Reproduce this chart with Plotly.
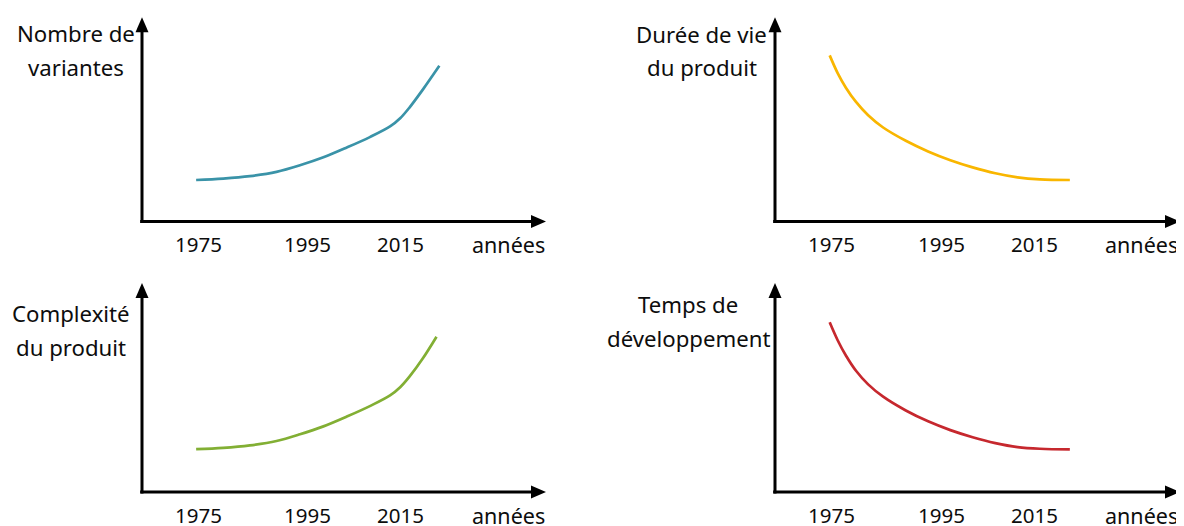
import plotly.graph_objects as go

# page body adds an 8px margin, so the figure is drawn 8px smaller and shifted
OFF = 8
W, H = 1184 - OFF, 526 - OFF

# ---- data (x in axis units: 0 = origin, 100 = arrow tip; y likewise) ----
YEAR_LABELS = ["1975", "1995", "2015"]
YEAR_POS = [14.0, 41.0, 64.1]
X_TITLE = "années"
X_TITLE_POS = 90.6

variantes_x = [13.4, 20.1, 26.7, 33.3, 39.1, 44.9, 50.7, 56.4, 61.4, 63.9, 66.3, 69.6, 73.6]
variantes_y = [20.3, 21.0, 22.2, 24.3, 27.5, 31.4, 36.2, 41.3, 46.5, 50.5, 56.0, 64.8, 76.2]

duree_x = [13.5, 15.5, 17.5, 20.0, 23.0, 26.7, 32.3, 37.8, 43.3, 48.8, 54.4, 59.9, 65.4, 72.8]
duree_y = [81.3, 72.5, 65.5, 58.5, 52.0, 46.0, 39.5, 34.3, 30.0, 26.5, 23.6, 21.6, 20.6, 20.3]

complexite_x = [13.4, 20.1, 26.7, 33.3, 39.1, 44.9, 50.7, 56.4, 61.4, 63.9, 66.3, 69.4, 72.9]
complexite_y = [20.5, 21.1, 22.3, 24.4, 27.6, 31.4, 36.1, 41.1, 46.2, 50.1, 55.4, 63.6, 74.3]

temps_x = [13.5, 15.5, 17.5, 20.0, 23.0, 26.7, 32.3, 37.8, 43.3, 48.8, 54.4, 59.9, 65.4, 72.8]
temps_y = [81.2, 72.5, 65.3, 58.0, 51.5, 45.6, 39.0, 33.8, 29.6, 26.2, 23.4, 21.5, 20.7, 20.4]

TITLES = [["Nombre de", "variantes"], ["Durée de vie", "du produit"],
          ["Complexité", "du produit"], ["Temps de", "développement"]]
COLORS = ["#3A93A8", "#F9B600", "#82AF34", "#C6282E"]
SERIES = [(variantes_x, variantes_y), (duree_x, duree_y),
          (complexite_x, complexite_y), (temps_x, temps_y)]

# ---- layout geometry (page pixels) ----
# origin, arrow tips, title centre x, title line centres y
PANELS = [
    dict(ox=142, oy=221, tx=546, ty=11, lc=75.5, l1=33, l2=67),
    dict(ox=775, oy=221, tx=1180, ty=11, lc=701.7, l1=34, l2=68),
    dict(ox=142, oy=492, tx=546, ty=283, lc=70.7, l1=313, l2=347),
    dict(ox=775, oy=492, tx=1180, ty=283, lc=688.0, l1=304, l2=338),
]
XR = (-5, 100.8)
YR = (-8, 104.5)
FONT = "Noto Sans"
TXT = "#0d0d0d"


def clamp(v):
    return min(1.0, max(0.0, v))


def px(x):
    return (x - OFF) / W


def py(y):
    return 1 - (y - OFF) / H


fig = go.Figure()
layout = dict(width=W, height=H, margin=dict(l=0, r=0, t=0, b=0),
              paper_bgcolor="white", plot_bgcolor="white", showlegend=False)
shapes, annots = [], []

for i, p in enumerate(PANELS):
    n = "" if i == 0 else str(i + 1)
    xs = (p["tx"] - p["ox"]) / 100.0
    ys = (p["oy"] - p["ty"]) / 100.0
    x0 = p["ox"] + XR[0] * xs
    x1 = p["ox"] + XR[1] * xs
    y0 = p["oy"] - YR[0] * ys
    y1 = p["oy"] - YR[1] * ys
    layout["xaxis" + n] = dict(domain=[clamp(px(x0)), clamp(px(x1))], range=list(XR),
                               visible=False, anchor="y" + n, fixedrange=True)
    layout["yaxis" + n] = dict(domain=[clamp(py(y0)), clamp(py(y1))], range=list(YR),
                               visible=False, anchor="x" + n, fixedrange=True)
    xr, yr = "x" + n, "y" + n
    sx, sy = SERIES[i]
    fig.add_trace(go.Scatter(x=sx, y=sy, mode="lines", xaxis=xr, yaxis=yr,
                             line=dict(color=COLORS[i], width=2.7, shape="spline", smoothing=1.0),
                             hoverinfo="skip"))
    # axes lines
    shapes.append(dict(type="line", xref=xr, yref=yr, x0=-0.45, y0=0, x1=97, y1=0,
                       line=dict(color="black", width=3)))
    shapes.append(dict(type="line", xref=xr, yref=yr, x0=0, y0=-0.7, x1=0, y1=95,
                       line=dict(color="black", width=3)))
    # arrow heads (pixel-sized, anchored at the tips)
    shapes.append(dict(type="path", xref=xr, yref=yr, xsizemode="pixel", ysizemode="pixel",
                       xanchor=100, yanchor=0, path="M0,0 L-15,6.5 L-15,-6.5 Z",
                       fillcolor="black", line=dict(width=0)))
    shapes.append(dict(type="path", xref=xr, yref=yr, xsizemode="pixel", ysizemode="pixel",
                       xanchor=0, yanchor=100, path="M0,0 L-6.5,-15 L6.5,-15 Z",
                       fillcolor="black", line=dict(width=0)))
    # year labels and axis title
    ly = py(p["oy"] + 23.2)
    for lab, pos in zip(YEAR_LABELS, YEAR_POS):
        annots.append(dict(text=lab, x=pos, xref=xr, y=ly, yref="paper", showarrow=False,
                           xanchor="center", yanchor="middle", borderpad=0,
                           font=dict(family=FONT, size=20.5, color=TXT)))
    annots.append(dict(text=X_TITLE, x=X_TITLE_POS, xref=xr, y=ly, yref="paper", showarrow=False,
                       xanchor="center", yanchor="middle", borderpad=0,
                       font=dict(family=FONT, size=21.5, color=TXT)))
    # y title, two centred lines
    for txt, yy in zip(TITLES[i], (p["l1"], p["l2"])):
        annots.append(dict(text=txt, x=px(p["lc"]), xref="paper", y=py(yy), yref="paper",
                           showarrow=False, xanchor="center", yanchor="middle",
                           font=dict(family=FONT, size=22.2, color=TXT)))

layout["shapes"] = shapes
layout["annotations"] = annots
fig.update_layout(**layout)
fig.write_html("out.html")
